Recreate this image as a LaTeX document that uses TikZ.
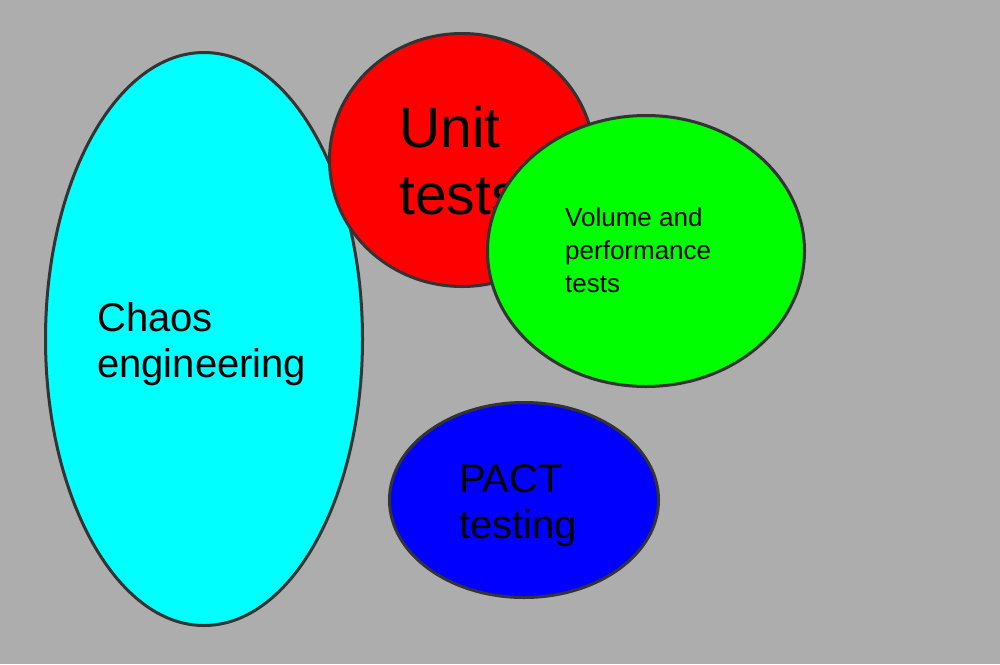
\documentclass[tikz,border=0pt]{standalone}
\usepackage{fontspec}
\setmainfont{Liberation Sans}
\usetikzlibrary{shapes.geometric}
\definecolor{bg}{RGB}{173,173,173}
\definecolor{edge}{RGB}{51,51,51}
\definecolor{cyanfill}{RGB}{0,255,255}
\definecolor{redfill}{RGB}{255,0,0}
\definecolor{greenfill}{RGB}{0,255,0}
\definecolor{bluefill}{RGB}{0,0,255}
\tikzset{
  blob/.style={ellipse, draw=edge, line width=3pt, inner sep=0pt, outer sep=0pt},
  lbl/.style={anchor=base west, align=left, inner sep=0pt, text=black}
}
\begin{document}
\begin{tikzpicture}[x=1pt,y=-1pt]
\fill[bg] (0,0) rectangle (1000,664);
\useasboundingbox (0,0) rectangle (1000,664);
\node[blob, fill=cyanfill, minimum width=317pt, minimum height=573pt] (chaos) at (204,339) {};
\node[blob, fill=redfill, minimum width=265pt, minimum height=253pt] (unit) at (462,160) {};
\node[lbl, font=\fontsize{57}{67}\selectfont] (unittxt) at (399,214) {Unit\\tests};
\node[blob, fill=greenfill, minimum width=317pt, minimum height=271pt] (vol) at (646,251) {};
\node[blob, fill=bluefill, minimum width=269pt, minimum height=195pt] (pact) at (524,500) {};
\node[lbl, font=\fontsize{26}{33}\selectfont] (voltxt) at (565,292) {Volume and\\performance\\tests};
\node[lbl, font=\fontsize{40}{46}\selectfont] (chaostxt) at (97,377) {Chaos\\engineering};
\node[lbl, font=\fontsize{40}{46}\selectfont] (pacttxt) at (459,538) {PACT\\testing};
\end{tikzpicture}
\end{document}
